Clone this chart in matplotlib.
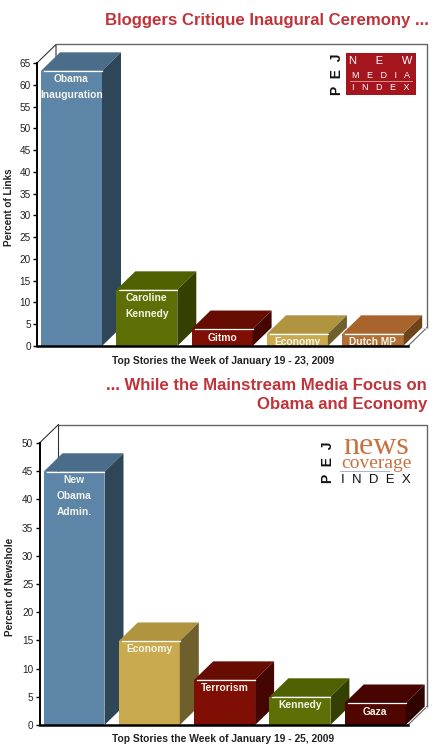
import matplotlib
matplotlib.use("Agg")
import matplotlib.pyplot as plt
from matplotlib.patches import Polygon, Rectangle

plt.rcParams['font.family'] = ['Liberation Sans', 'DejaVu Sans']

W = 436
H = 750

# top chart
links_labels = ["Obama\nInauguration", "Caroline\nKennedy", "Gitmo", "Economy", "Dutch MP"]
links_values = [63.2, 12.9, 3.9, 2.8, 2.8]
links_ticks = list(range(0, 70, 5))
links_colors = [("#5d85a8", "#4a6d8a", "#2f4658"), ("#5e7005", "#4f6000", "#334000"),
                ("#7f0e05", "#660c00", "#450500"), ("#c9aa4e", "#b09440", "#6e5f2c"),
                ("#b26f36", "#a8642c", "#6e4518")]

# bottom chart
news_labels = ["New\nObama\nAdmin.", "Economy", "Terrorism", "Kennedy", "Gaza"]
news_values = [44.9, 14.9, 8.0, 5.0, 3.9]
news_ticks = list(range(0, 55, 5))
news_colors = [("#5d85a8", "#4a6d8a", "#2f4658"), ("#c9aa4e", "#b09440", "#6e5f2c"),
               ("#7f0e05", "#660c00", "#450500"), ("#5e7005", "#4f6000", "#334000"),
               ("#500500", "#470400", "#300200")]


def fx(px):
    return px / W


def fy(py):
    return 1 - py / H


def draw_chart(left, right, y0, ytop, ymax, labels, values, colors, ticks, ylabel, xlabel, ylabel_x, xlabel_y):
    ax = fig.add_axes([fx(left), fy(y0), fx(right - left), (y0 - ytop) / H])
    step = 75.3
    first = left + 34.5
    ax.set_xlim((left - first) / step, (right - first) / step)
    ax.set_ylim(0, ymax)
    ax.patch.set_alpha(0)
    dx = 19 / step
    dy = 18.5 * ymax / (y0 - ytop)
    w = 0.81
    x0, x1 = ax.get_xlim()

    # walls
    wall = dict(color="#666666", lw=1, clip_on=False, zorder=1)
    ax.plot([x0, x0 + dx, x0 + dx], [ymax, ymax + dy, dy], color="#333333", lw=0.8, clip_on=False, zorder=1)
    ax.plot([x0 + dx, x1 + dx, x1 + dx], [ymax + dy, ymax + dy, dy], **wall)
    ax.plot([x1, x1 + dx], [0, dy], color="#666666", lw=0.8, clip_on=False, zorder=1)
    ax.plot([x0 + dx, x1 + dx], [dy, dy], color="#dddddd", lw=0.6, clip_on=False, zorder=1)

    for i in range(len(values)):
        v = values[i]
        front, top, side = colors[i]
        l = i - w / 2
        r = i + w / 2
        ax.add_patch(Rectangle((l, 0), w, v, fc=front, ec="none", zorder=3, clip_on=False))
        ax.add_patch(Polygon([(l, v), (r, v), (r + dx, v + dy), (l + dx, v + dy)], fc=top, ec="none", zorder=3, clip_on=False))
        ax.add_patch(Polygon([(r, 0), (r + dx, dy), (r + dx, v + dy), (r, v)], fc=side, ec="none", zorder=3, clip_on=False))
        ax.plot([l + 0.04, r], [v, v], color="white", lw=0.9, zorder=4, clip_on=False)
        for j, line in enumerate(labels[i].split("\n")):
            ax.annotate(line, (i, v), xytext=(0, (-8.5 - 16 * j) * 0.72), textcoords="offset points",
                        ha="center", va="center", color="#f4f4ea", fontsize=7.4, fontweight="bold", zorder=5)

    ax.set_xticks([])
    ax.set_yticks(ticks)
    ax.tick_params(axis="y", length=3, width=1, pad=1.5, labelsize=7.2, labelcolor="#222222")
    for s in ["top", "right"]:
        ax.spines[s].set_visible(False)
    ax.spines["left"].set_linewidth(1.4)
    ax.spines["bottom"].set_linewidth(1.8)
    ax.spines["left"].set_zorder(6)
    ax.spines["bottom"].set_zorder(6)
    fig.text(fx(ylabel_x), fy((y0 + ytop) / 2 + 3), ylabel, rotation=90, ha="center", va="center",
             fontsize=7.2, fontweight="bold", color="#222222")
    fig.text(fx(223), fy(xlabel_y), xlabel, ha="center", va="center", fontsize=7.4, fontweight="bold", color="#222222")


fig = plt.figure(figsize=(W / 100, H / 100), dpi=100, facecolor="white")

title_color = "#c1333a"
fig.text(fx(429), fy(21), "Bloggers Critique Inaugural Ceremony ...", ha="right", va="center",
         fontsize=12.05, fontweight="bold", color=title_color)
fig.text(fx(427), fy(385), "... While the Mainstream Media Focus on", ha="right", va="center",
         fontsize=12.05, fontweight="bold", color=title_color)
fig.text(fx(427), fy(405), "Obama and Economy", ha="right", va="center",
         fontsize=12.05, fontweight="bold", color=title_color)

draw_chart(37, 408, 346, 63, 65, links_labels, links_values, links_colors, links_ticks,
           "Percent of Links", "Top Stories the Week of January 19 - 23, 2009", 8.5, 361)
draw_chart(39.5, 408, 725, 443, 50, news_labels, news_values, news_colors, news_ticks,
           "Percent of Newshole", "Top Stories the Week of January 19 - 25, 2009", 10, 739)

# New Media Index logo
fig.patches.append(Rectangle((fx(346), fy(95)), 70 / W, 42 / H, transform=fig.transFigure, fc="#a5151d", ec="none", zorder=5))
fig.patches.append(Rectangle((fx(350), fy(81.5)), 63 / W, 0.6 / H, transform=fig.transFigure, fc="#d88a8a", ec="none", zorder=6))
fig.text(fx(337), fy(74), "P  E  J", rotation=90, ha="center", va="center", fontsize=10, fontweight="bold", color="#111111", zorder=6)
fig.text(fx(381), fy(61), "N      E      W", ha="center", va="center", fontsize=8, color="white", zorder=6)
fig.text(fx(381), fy(75), "M   E   D   I   A", ha="center", va="center", fontsize=6.5, color="white", zorder=6)
fig.text(fx(381), fy(88), "I   N   D   E   X", ha="center", va="center", fontsize=6.5, color="white", zorder=6)

# News Coverage Index logo
fig.patches.append(Rectangle((fx(340), fy(471.5)), 50 / W, 0.7 / H, transform=fig.transFigure, fc="#a9b8cc", ec="none", zorder=6))
fig.text(fx(327.5), fy(462), "P  E  J", rotation=90, ha="center", va="center", fontsize=10, fontweight="bold", color="#111111", zorder=6)
fig.text(fx(376), fy(446), "news", family="Liberation Serif", ha="center", va="center", fontsize=23, color="#c9703f", zorder=6)
fig.text(fx(376), fy(464), "coverage", family="Liberation Serif", ha="center", va="center", fontsize=14, color="#c9703f", zorder=6)
fig.text(fx(376), fy(480), "I  N  D  E  X", ha="center", va="center", fontsize=9.5, color="#111111", zorder=6)

fig.savefig("out.png", dpi=100)
